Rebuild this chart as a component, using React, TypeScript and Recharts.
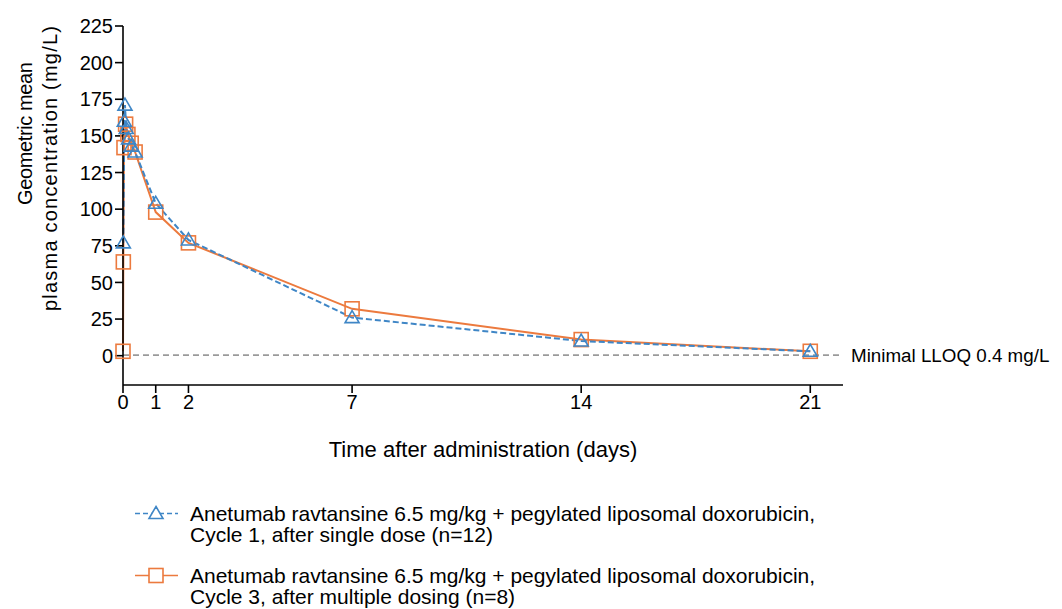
import React from "react";
import { ComposedChart, Line, XAxis, YAxis, ReferenceLine, Label } from "recharts";

const cycle1Times = [0.01, 0.04, 0.06, 0.1, 0.17, 0.25, 0.37, 1, 2, 7, 14, 21];
const cycle1Conc = [77, 160, 171, 155, 148, 143, 139, 104, 79, 26, 10, 3];
const cycle3Times = [0, 0.01, 0.03, 0.08, 0.15, 0.25, 0.37, 1, 2, 7, 14, 21];
const cycle3Conc = [3, 64, 142, 158, 151, 145, 139, 98, 77, 32, 11, 3];

const xTicks = [0, 1, 2, 7, 14, 21];
const yTicks = [0, 25, 50, 75, 100, 125, 150, 175, 200, 225];
const lloq = 0.4;

const seriesNames = [
  ["Anetumab ravtansine 6.5 mg/kg + pegylated liposomal doxorubicin,", "Cycle 1, after single dose (n=12)"],
  ["Anetumab ravtansine 6.5 mg/kg + pegylated liposomal doxorubicin,", "Cycle 3, after multiple dosing (n=8)"],
];

const BLUE = "#3f86c6";
const ORANGE = "#ec7a3e";
const FONT = "'Liberation Sans', Arial, Helvetica, sans-serif";

const cycle1 = cycle1Times.map((x, i) => ({ x, y: cycle1Conc[i] }));
const cycle3 = cycle3Times.map((x, i) => ({ x, y: cycle3Conc[i] }));

const Tri = (props: any) => {
  const { cx, cy } = props;
  if (cx == null || cy == null) return null;
  return (
    <path
      d={`M${cx},${cy - 7} L${cx + 7},${cy + 5} L${cx - 7},${cy + 5} Z`}
      fill="none"
      stroke={BLUE}
      strokeWidth={1.6}
    />
  );
};

const Sq = (props: any) => {
  const { cx, cy } = props;
  if (cx == null || cy == null) return null;
  return <rect x={cx - 7} y={cy - 7} width={14} height={14} fill="none" stroke={ORANGE} strokeWidth={1.6} />;
};

const YLabel = () => {
  const x1 = 17;
  const y1 = 125.5;
  const x2 = 42;
  const y2 = 160.5;
  return (
    <g fontFamily={FONT} fontSize={20} fill="#000">
      <text
        x={x1}
        y={y1}
        transform={`rotate(-90 ${x1} ${y1})`}
        textAnchor="middle"
        dominantBaseline="central"
        textLength={143}
        lengthAdjust="spacing"
      >
        Geometric mean
      </text>
      <text
        x={x2}
        y={y2}
        transform={`rotate(-90 ${x2} ${y2})`}
        textAnchor="middle"
        dominantBaseline="central"
        textLength={285}
        lengthAdjust="spacing"
      >
        plasma concentration (mg/L)
      </text>
    </g>
  );
};

const LegendRow = ({ color, dashed, marker, lines }: any) => (
  <div style={{ display: "flex", alignItems: "flex-start", marginBottom: 20 }}>
    <svg width={49} height={21} style={{ flex: "none" }}>
      <line x1={0} y1={10.5} x2={43} y2={10.5} stroke={color} strokeWidth={1.6} strokeDasharray={dashed ? "5 3" : undefined} />
      {marker === "tri" ? (
        <path d="M21,3.5 L28,15.5 L14,15.5 Z" fill="#fff" stroke={color} strokeWidth={1.6} />
      ) : (
        <rect x={14} y={3.5} width={14} height={14} fill="#fff" stroke={color} strokeWidth={1.6} />
      )}
    </svg>
    <div style={{ fontFamily: FONT, fontSize: 21, lineHeight: "21px", color: "#000", marginLeft: 6, whiteSpace: "nowrap" }}>
      {lines.map((l: string, i: number) => (
        <div key={i}>{l}</div>
      ))}
    </div>
  </div>
);

export default function App() {
  return (
    <div style={{ position: "relative", width: 1046, height: 601 }}>
      <ComposedChart
        width={1046}
        height={593}
        margin={{ top: 18, right: 211, bottom: 186, left: 55 }}
      >
        <XAxis
          type="number"
          dataKey="x"
          domain={[0, 22]}
          ticks={xTicks}
          stroke="#000"
          strokeWidth={1.6}
          tickSize={8}
          tick={{ fill: "#000", fontSize: 20, fontFamily: FONT }}
          height={30}
        >
          <Label
            value="Time after administration (days)"
            position="bottom"
            offset={26}
            style={{ fill: "#000", fontSize: 22, fontFamily: FONT }}
          />
        </XAxis>
        <YAxis
          type="number"
          domain={[-20, 225]}
          ticks={yTicks}
          stroke="#000"
          strokeWidth={1.6}
          tickSize={8}
          width={60}
          tick={{ fill: "#000", fontSize: 20, fontFamily: FONT }}
        >
          <Label content={<YLabel />} />
        </YAxis>
        <ReferenceLine
          y={lloq}
          stroke="#9a9a9a"
          strokeWidth={1.6}
          strokeDasharray="6 4"
          label={{
            value: "Minimal LLOQ 0.4 mg/L",
            position: "right",
            offset: 8,
            style: { fill: "#000", fontSize: 18.8, fontFamily: FONT },
          }}
        />
        <Line
          data={cycle3}
          dataKey="y"
          type="linear"
          stroke={ORANGE}
          strokeWidth={2}
          dot={<Sq />}
          isAnimationActive={false}
          name="Cycle 3"
        />
        <Line
          data={cycle1}
          dataKey="y"
          type="linear"
          stroke={BLUE}
          strokeWidth={2}
          strokeDasharray="6 3"
          dot={<Tri />}
          isAnimationActive={false}
          name="Cycle 1"
        />
      </ComposedChart>
      <div style={{ position: "absolute", left: 127, top: 495 }}>
        <LegendRow color={BLUE} dashed marker="tri" lines={seriesNames[0]} />
        <LegendRow color={ORANGE} marker="sq" lines={seriesNames[1]} />
      </div>
    </div>
  );
}
